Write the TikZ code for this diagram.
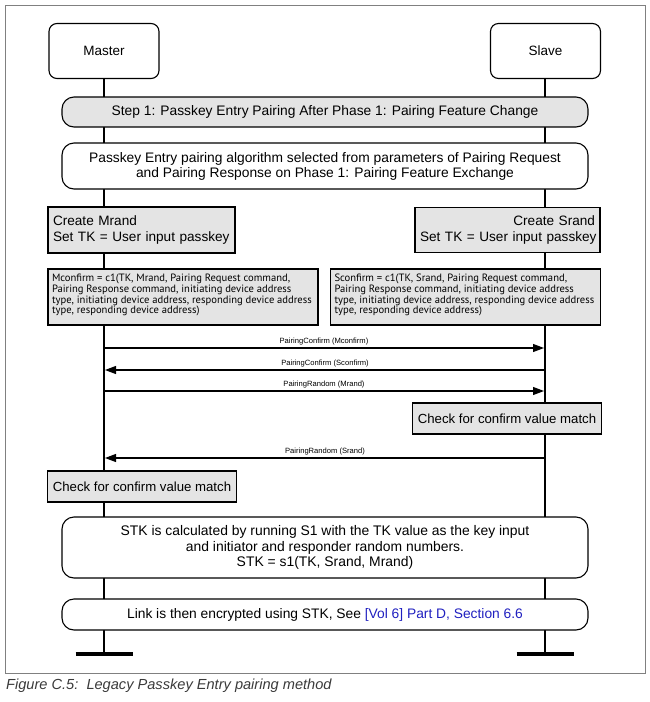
\documentclass[tikz,border=0pt]{standalone}
\usepackage{fontspec}
\setmainfont{Liberation Sans}
\newfontfamily\calcfont{PT Sans}
\usetikzlibrary{arrows.meta}

\definecolor{boxgray}{HTML}{E4E4E4}
\definecolor{framegray}{HTML}{808080}
\definecolor{refblue}{HTML}{2020C0}
\definecolor{capgray}{HTML}{3A3A3A}

\tikzset{
  actor/.style={draw, rounded corners=8pt, fill=white, line width=1.1pt,
    minimum width=110pt, minimum height=55pt, font=\fontsize{13.5}{16}\selectfont},
  phase/.style={draw, rounded corners=12pt, line width=1.1pt, minimum width=526pt,
    align=center, font=\fontsize{13.8}{15}\selectfont},
  action/.style={draw, fill=boxgray, line width=1.1pt, inner xsep=5pt,
    font=\fontsize{13.6}{16}\selectfont},
  calc/.style={draw, fill=boxgray, line width=1.1pt, inner xsep=4pt, inner ysep=5pt,
    font=\calcfont\fontsize{10.6}{9.4}\selectfont},
  msg/.style={-{Triangle[length=11pt,width=8pt]}, line width=1.1pt},
  msglabel/.style={above, inner sep=2pt, font=\fontsize{7.6}{8}\selectfont}
}
\newcommand{\calctext}[1]{\parbox[t][46pt][t]{262pt}{\raggedright #1}}

\begin{document}
\begin{tikzpicture}[x=1pt, y=-1pt]
    \useasboundingbox (0,0) rectangle (649,702);

    % Frame and caption
    \draw[framegray, line width=1pt] (5,5) rectangle (645,673);
    \node[anchor=west, inner sep=0pt, text=capgray, font=\itshape\fontsize{14.6}{16}\selectfont]
      (caption) at (6,686) {Figure C.5:\ \ Legacy Passkey Entry pairing method};

    % Lifelines
    \coordinate (mend) at (104,654);
    \coordinate (send) at (545,654);
    \draw[line width=1.2pt] (104,51) -- (mend);
    \draw[line width=1.2pt] (545,51) -- (send);
    \draw[line width=4.5pt] (75.5,654) -- (132.5,654);
    \draw[line width=4.5pt] (516.5,654) -- (573.5,654);

    % Master and slave
    \node[actor] (master) at (104,51) {Master};
    \node[actor] (slave) at (545.5,51) {Slave};

    % Step 1
    \node[phase, fill=boxgray, minimum height=30pt] (step) at (325,112)
      {Step 1: Passkey Entry Pairing After Phase 1: Pairing Feature Change};
    \node[phase, fill=white, minimum height=46pt] (algo) at (325,166)
      {Passkey Entry pairing algorithm selected from parameters of Pairing Request\\
       and Pairing Response on Phase 1: Pairing Feature Exchange};

    % Random values
    \node[action, text width=177pt, minimum height=46pt, align=left] (mrand) at (141.5,230)
      {Create Mrand\\\mbox{Set TK = User input passkey}};
    \node[action, text width=175pt, minimum height=45pt, align=right] (srand) at (507.5,230)
      {Create Srand\\\mbox{Set TK = User input passkey}};

    % Confirm values
    \node[calc] (mconf) at (183,297)
      {\calctext{\mbox{Mconfirm = c1(TK, Mrand, Pairing Request command,}\\
       \mbox{Pairing Response command, initiating device address}\\
       \mbox{type, initiating device address, responding device address}\\
       \mbox{type, responding device address)}}};
    \node[calc] (sconf) at (465.5,297)
      {\calctext{\mbox{Sconfirm = c1(TK, Srand, Pairing Request command,}\\
       \mbox{Pairing Response command, initiating device address}\\
       \mbox{type, initiating device address, responding device address}\\
       \mbox{type, responding device address)}}};

    % Messages
    \coordinate (m1) at (104,348);
    \coordinate (s1) at (544,348);
    \coordinate (m2) at (105,370);
    \coordinate (s2) at (545,370);
    \coordinate (m3) at (104,391);
    \coordinate (s3) at (544,391);
    \coordinate (m4) at (105,458);
    \coordinate (s4) at (545,458);
    \draw[msg] (m1) -- (s1) node[msglabel, midway] {PairingConfirm (Mconfirm)};
    \draw[msg] (s2) -- (m2) node[msglabel, midway] {PairingConfirm (Sconfirm)};
    \draw[msg] (m3) -- (s3) node[msglabel, midway] {PairingRandom (Mrand)};
    \draw[msg] (s4) -- (m4) node[msglabel, midway] {PairingRandom (Srand)};

    % Checks
    \node[action, minimum width=188pt, minimum height=31pt, font=\fontsize{13.2}{15}\selectfont]
      (scheck) at (507,418.5) {Check for confirm value match};
    \node[action, minimum width=188pt, minimum height=31pt, font=\fontsize{13.2}{15}\selectfont]
      (mcheck) at (142,486.5) {Check for confirm value match};

    % Key generation and encryption
    \node[phase, fill=white, minimum height=61pt, font=\fontsize{13.9}{15.5}\selectfont] (stk) at (325,547.5)
      {STK is calculated by running S1 with the TK value as the key input\\
       and initiator and responder random numbers.\\
       STK = s1(TK, Srand, Mrand)};
    \node[phase, fill=white, minimum height=31pt] (link) at (325,614.5)
      {Link is then encrypted using STK, See \textcolor{refblue}{[Vol 6] Part D, Section 6.6}};
\end{tikzpicture}
\end{document}
